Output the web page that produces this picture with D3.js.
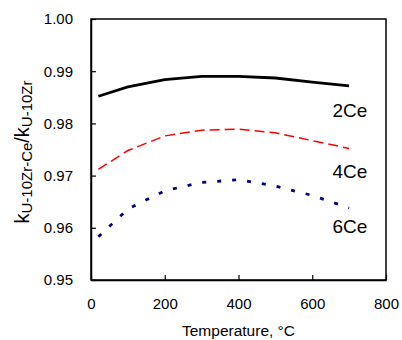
<!DOCTYPE html>
<html>
<head>
<meta charset="utf-8">
<script src="https://cdn.jsdelivr.net/npm/d3@7"></script>
<style>
    body { margin: 0; background: #fff; }
    svg text { font-family: Arial, 'Liberation Sans', sans-serif; fill: #000; }
</style>
</head>
<body>
<svg id="chart" width="402" height="340"></svg>
<script>
// temperatures, deg C
const temps = [ 20, 100, 200, 300, 400, 500, 600, 700 ];
// ratio k(U-10Zr-Ce) / k(U-10Zr)
const ce2 = [ 0.9852, 0.9870, 0.9884, 0.9890, 0.9890, 0.9887, 0.9879, 0.9872 ];
const ce4 = [ 0.9712, 0.9748, 0.9776, 0.9787, 0.9789, 0.9782, 0.9767, 0.9752 ];
const ce6 = [ 0.9583, 0.9636, 0.9671, 0.9687, 0.9692, 0.9680, 0.9662, 0.9638 ];
const seriesNames = [ '2Ce', '4Ce', '6Ce' ];
const xTicks = [ 0, 200, 400, 600, 800 ];
const yTicks = [ 0.95, 0.96, 0.97, 0.98, 0.99, 1.00 ];

const margin = { top: 19, right: 16, bottom: 60, left: 91 };
const width  = 402 - margin.left - margin.right;
const height = 340 - margin.top - margin.bottom;

const svg = d3.select('#chart');
const g   = svg.append('g').attr('transform', `translate(${margin.left},${margin.top})`);

const x = d3.scaleLinear().domain([ 0, 800 ]).range([ 0, width ]);
const y = d3.scaleLinear().domain([ 0.95, 1.00 ]).range([ height, 0 ]);

// frame
g.append('rect')
    .attr('width', width)
    .attr('height', height)
    .attr('fill', 'none')
    .attr('stroke', '#000')
    .attr('stroke-width', 1.5);

const xAxis = g.append('g')
    .attr('transform', `translate(0,${height})`)
    .call(d3.axisBottom(x).tickValues(xTicks).tickSizeInner(-5).tickSizeOuter(0).tickPadding(18));

const yAxis = g.append('g')
    .call(d3.axisLeft(y).tickValues(yTicks).tickFormat(d3.format('.2f')).tickSizeInner(-5).tickSizeOuter(0).tickPadding(18));

[ xAxis, yAxis ].forEach(a => {
    a.select('.domain').attr('stroke', '#000').attr('stroke-width', 1.5);
    a.selectAll('.tick line').attr('stroke', '#000').attr('stroke-width', 1.2);
    a.selectAll('.tick text').attr('font-size', 15).attr('font-family', 'Arial, Liberation Sans, sans-serif');
});

const styles = [
    { color: '#000', width: 2.8, dash: null },
    { color: '#ff0000', width: 1.5, dash: '10,5' },
    { color: '#000080', width: 2.8, dash: '4,11' },
];

const line = d3.line()
    .x((d, i) => x(temps[i]))
    .y(d => y(d));

[ ce2, ce4, ce6 ].forEach((vals, i) => {
    g.append('path')
        .datum(vals)
        .attr('d', line)
        .attr('fill', 'none')
        .attr('stroke', styles[i].color)
        .attr('stroke-width', styles[i].width)
        .attr('stroke-dasharray', styles[i].dash);
});

// series labels
const labelY = [ 0.9812, 0.9695, 0.9590 ];
seriesNames.forEach((name, i) => {
    g.append('text')
        .attr('x', x(655))
        .attr('y', y(labelY[i]))
        .attr('font-size', 19)
        .text(name);
});

svg.append('text')
    .attr('x', margin.left + width / 2)
    .attr('y', 336)
    .attr('text-anchor', 'middle')
    .attr('font-size', 15.5)
    .text('Temperature, °C');

const yt = svg.append('text')
    .attr('transform', `translate(29,152) rotate(-90)`)
    .attr('text-anchor', 'middle')
    .attr('font-size', 20);
yt.append('tspan').text('k');
yt.append('tspan').attr('font-size', 15).attr('dy', 3).text('U-10Zr-Ce');
yt.append('tspan').attr('dy', -3).text('/k');
yt.append('tspan').attr('font-size', 15).attr('dy', 3).text('U-10Zr');
</script>
</body>
</html>
